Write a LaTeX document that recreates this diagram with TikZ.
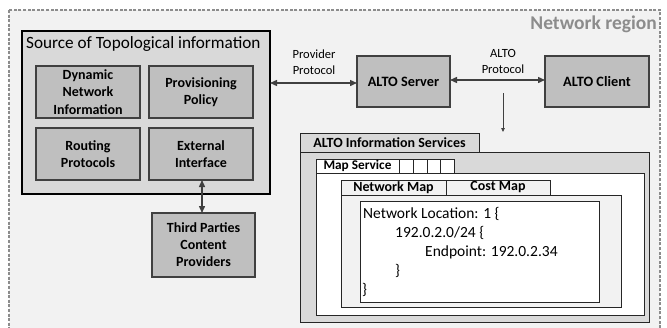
\documentclass[tikz,border=0pt]{standalone}
\usepackage{fontspec}
\setmainfont{Carlito}
\usetikzlibrary{arrows.meta}
\definecolor{bg}{HTML}{F2F2F2}
\definecolor{lg}{HTML}{D9D9D9}
\definecolor{mg}{HTML}{BFBFBF}
\definecolor{dg}{HTML}{404040}
\definecolor{rg}{HTML}{8C8C8C}
\begin{document}
\begin{tikzpicture}[x=1pt,y=-1pt,
  inbox/.style={draw=dg, fill=mg, line width=1.4pt, anchor=north west, inner sep=0pt, outer sep=0pt, align=center, font=\bfseries\fontsize{14}{17.5}\selectfont},
  srcbox/.style={draw=black, fill=lg, line width=1.5pt, anchor=north west, inner sep=0pt, outer sep=0pt},
  tabbox/.style={draw=black!85, line width=0.9pt, anchor=north west, inner sep=0pt, outer sep=0pt, font=\bfseries\fontsize{14}{15}\selectfont},
  lbl/.style={align=center, inner sep=0pt, font=\fontsize{12.5}{16}\selectfont},
  code/.style={anchor=west, inner sep=0pt, font=\fontsize{15.5}{19}\selectfont},
  arr/.style={draw=dg, line width=1.4pt, {Triangle[length=7pt,width=6pt]}-{Triangle[length=7pt,width=6pt]}}
]
\useasboundingbox (0,0) rectangle (667,327);
\clip (0,0) rectangle (667,327);
\fill[white] (0,0) rectangle (667,327);
% network region
\draw[rg, fill=bg, line width=1.5pt, dash pattern=on 3pt off 1.6pt] (9,10) rectangle (660,345);
\node[anchor=base east, inner sep=0pt, text=rg, font=\bfseries\fontsize{19.5}{22}\selectfont] (nr) at (657,29) {Network region};

% source of topological information
\node[srcbox, minimum width=248pt, minimum height=163pt] (src) at (22,31) {};
\node[anchor=base west, inner sep=0pt, font=\fontsize{17.2}{20}\selectfont] (srct) at (26,48.5) {Source of Topological information};
\node[inbox, minimum width=104pt, minimum height=52pt] (dyn) at (36,66) {Dynamic\\Network\\Information};
\node[inbox, minimum width=104pt, minimum height=52pt] (prov) at (149,66) {Provisioning\\Policy};
\node[inbox, minimum width=104pt, minimum height=52pt] (rout) at (36,128) {Routing\\Protocols};
\node[inbox, minimum width=104pt, minimum height=52pt] (ext) at (149,128) {External\\Interface};
\node[inbox, minimum width=103pt, minimum height=64pt, font=\bfseries\fontsize{14}{17}\selectfont] (third) at (152,213) {Third Parties\\Content\\Providers};

% ALTO server / client
\node[inbox, minimum width=93pt, minimum height=51pt, font=\bfseries\fontsize{14.3}{17}\selectfont] (srv) at (357,56) {ALTO Server};
\node[inbox, minimum width=104pt, minimum height=51pt, font=\bfseries\fontsize{14.3}{17}\selectfont] (cli) at (545,56) {ALTO Client};

% arrows
\draw[arr] (ext.south -| 202,0) -- (202,0 |- third.north);
\draw[arr] (src.east |- 0,83) -- (srv.west |- 0,83);
\draw[arr] (srv.east |- 0,80) -- (cli.west |- 0,80);
\node[lbl] (pp) at (314,62) {Provider\\Protocol};
\node[lbl] (ap) at (503,61) {ALTO\\Protocol};
\coordinate (d1) at (503,93);
\coordinate (d2) at (503,132);
\draw[dg, line width=0.8pt, -{Triangle[length=4pt,width=3.5pt]}] (d1) -- (d2);

% ALTO information services
\node[tabbox, fill=lg, minimum width=349pt, minimum height=170pt] (ais) at (300,152) {};
\node[tabbox, fill=lg, minimum width=179pt, minimum height=19pt] (aist) at (300,133) {ALTO Information Services};
\node[tabbox, fill=white, minimum width=328pt, minimum height=142pt] (ms) at (316,173) {};
\node[tabbox, fill=white, minimum width=83pt, minimum height=14pt, font=\bfseries\fontsize{13.3}{14}\selectfont] (mst) at (316,159) {Map Service};
\node[tabbox, fill=white, minimum width=14pt, minimum height=14pt] (t1) at (399,159) {};
\node[tabbox, fill=white, minimum width=14pt, minimum height=14pt] (t2) at (413,159) {};
\node[tabbox, fill=white, minimum width=13pt, minimum height=14pt] (t3) at (427,159) {};
\node[tabbox, fill=white, minimum width=14pt, minimum height=14pt] (t4) at (440,159) {};
\node[tabbox, fill=bg, minimum width=280pt, minimum height=112pt] (nm) at (341,195) {};
\node[tabbox, fill=bg, minimum width=105pt, minimum height=15pt] (nmt) at (341,180) {Network Map};
\node[tabbox, fill=bg, minimum width=104pt, minimum height=15pt] (cmt) at (446,180) {Cost Map};
\node[tabbox, fill=white, minimum width=239pt, minimum height=101pt] (cb) at (360,201) {};
\node[code] (c1) at (363,214) {Network Location: 1 \{};
\node[code] (c2) at (395,233) {192.0.2.0/24 \{};
\node[code] (c3) at (425,252) {Endpoint: 192.0.2.34};
\node[code] (c4) at (395,271) {\}};
\node[code] (c5) at (362,290) {\}};
\end{tikzpicture}
\end{document}
